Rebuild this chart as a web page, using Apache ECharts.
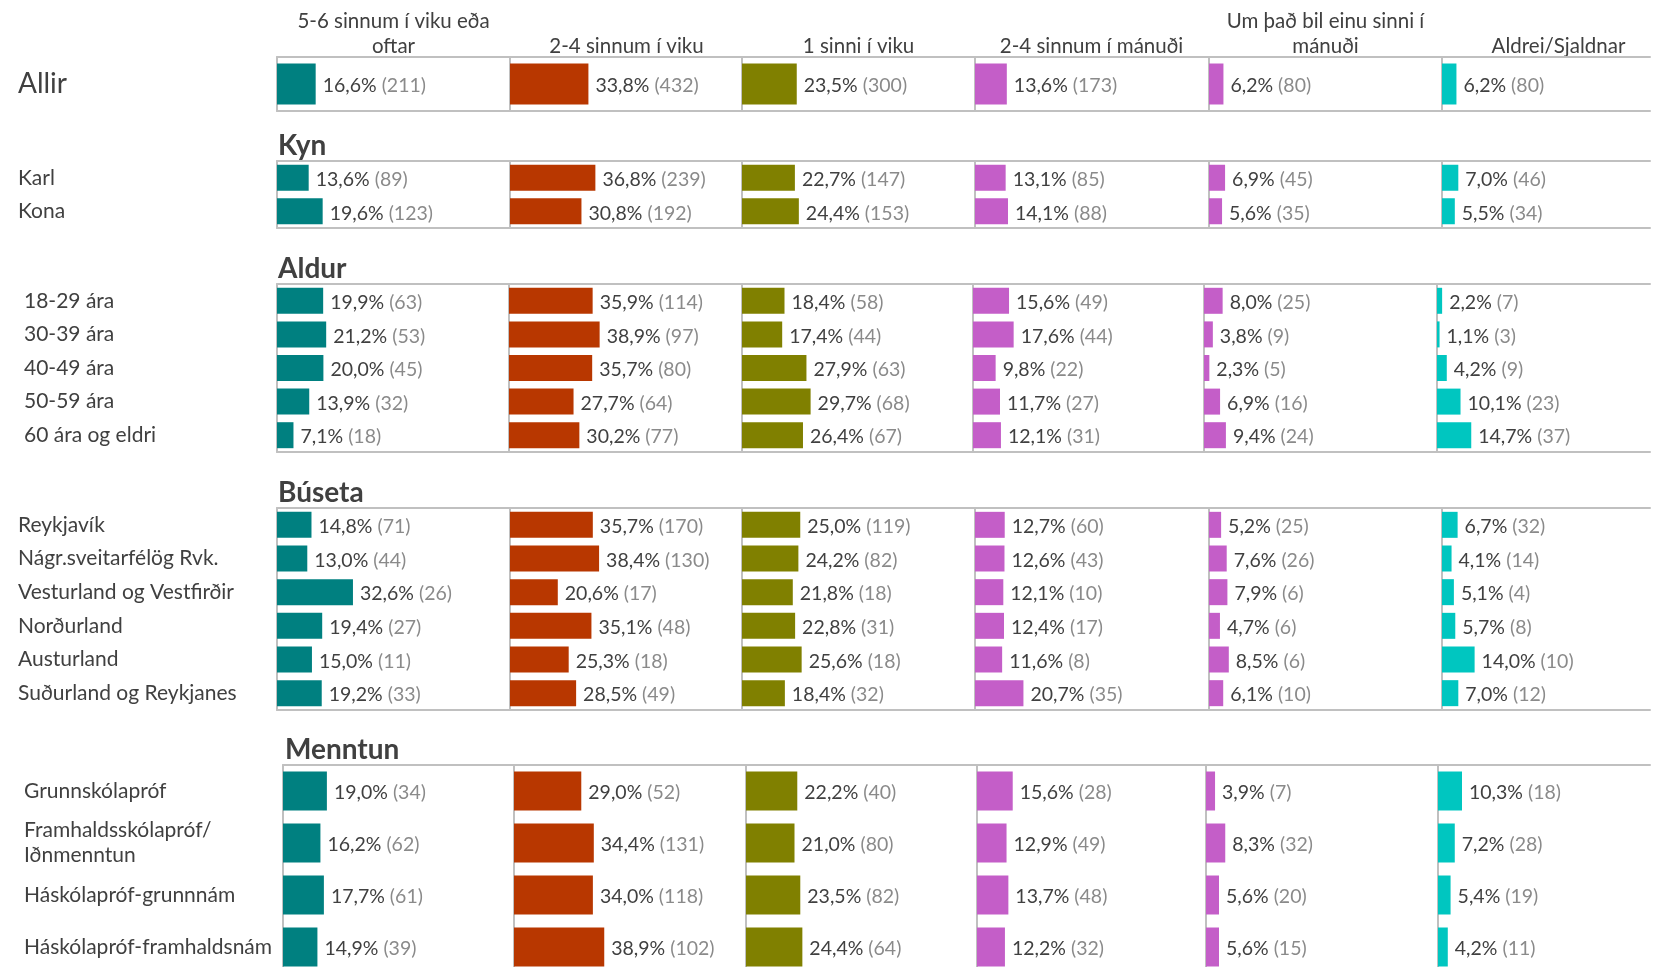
<!DOCTYPE html>
<html>
<head>
<meta charset="utf-8">
<script src="https://cdn.jsdelivr.net/npm/echarts@6/dist/echarts.min.js"></script>
<style>
  html, body { margin: 0; padding: 0; background: #fff; overflow: hidden; }
  #main { width: 1655px; height: 967px; }
</style>
</head>
<body>
<div id="main"></div>
<script>
// dálkar (svarmöguleikar)
var columns = ['5-6 sinnum í viku eða\noftar', '2-4 sinnum í viku', '1 sinni í viku',
               '2-4 sinnum í mánuði', 'Um það bil einu sinni í\nmánuði', 'Aldrei/Sjaldnar'];
var sections = ['', 'Kyn', 'Aldur', 'Búseta', 'Menntun'];

var allirRows = ['Allir'];
var allirPct = [[16.6, 33.8, 23.5, 13.6, 6.2, 6.2]];
var allirN   = [[211, 432, 300, 173, 80, 80]];

var kynRows = ['Karl', 'Kona'];
var kynPct = [[13.6, 36.8, 22.7, 13.1, 6.9, 7.0],
              [19.6, 30.8, 24.4, 14.1, 5.6, 5.5]];
var kynN   = [[89, 239, 147, 85, 45, 46],
              [123, 192, 153, 88, 35, 34]];

var aldurRows = ['18-29 ára', '30-39 ára', '40-49 ára', '50-59 ára', '60 ára og eldri'];
var aldurPct = [[19.9, 35.9, 18.4, 15.6, 8.0, 2.2],
                [21.2, 38.9, 17.4, 17.6, 3.8, 1.1],
                [20.0, 35.7, 27.9, 9.8, 2.3, 4.2],
                [13.9, 27.7, 29.7, 11.7, 6.9, 10.1],
                [7.1, 30.2, 26.4, 12.1, 9.4, 14.7]];
var aldurN   = [[63, 114, 58, 49, 25, 7],
                [53, 97, 44, 44, 9, 3],
                [45, 80, 63, 22, 5, 9],
                [32, 64, 68, 27, 16, 23],
                [18, 77, 67, 31, 24, 37]];

var busetaRows = ['Reykjavík', 'Nágr.sveitarfélög Rvk.', 'Vesturland og Vestfirðir',
                  'Norðurland', 'Austurland', 'Suðurland og Reykjanes'];
var busetaPct = [[14.8, 35.7, 25.0, 12.7, 5.2, 6.7],
                 [13.0, 38.4, 24.2, 12.6, 7.6, 4.1],
                 [32.6, 20.6, 21.8, 12.1, 7.9, 5.1],
                 [19.4, 35.1, 22.8, 12.4, 4.7, 5.7],
                 [15.0, 25.3, 25.6, 11.6, 8.5, 14.0],
                 [19.2, 28.5, 18.4, 20.7, 6.1, 7.0]];
var busetaN   = [[71, 170, 119, 60, 25, 32],
                 [44, 130, 82, 43, 26, 14],
                 [26, 17, 18, 10, 6, 4],
                 [27, 48, 31, 17, 6, 8],
                 [11, 18, 18, 8, 6, 10],
                 [33, 49, 32, 35, 10, 12]];

var menntunRows = ['Grunnskólapróf', 'Framhaldsskólapróf/\nIðnmenntun',
                   'Háskólapróf-grunnnám', 'Háskólapróf-framhaldsnám'];
var menntunPct = [[19.0, 29.0, 22.2, 15.6, 3.9, 10.3],
                  [16.2, 34.4, 21.0, 12.9, 8.3, 7.2],
                  [17.7, 34.0, 23.5, 13.7, 5.6, 5.4],
                  [14.9, 38.9, 24.4, 12.2, 5.6, 4.2]];
var menntunN   = [[34, 52, 40, 28, 7, 18],
                  [62, 131, 80, 49, 32, 28],
                  [61, 118, 82, 48, 20, 19],
                  [39, 102, 64, 32, 15, 11]];

var colors = ['#008080', '#b83700', '#808000', '#c45ec8', '#c45ec8', '#00c6c0'];

// útlit hvers hluta
var defLefts = [277, 510, 742, 975, 1209, 1442];
var layout = [
  {rows: allirRows,   pct: allirPct,   n: allirN,   top: 57,  h: 54,  bw: 41, lefts: defLefts, lx: 18, fs: 28, pad: 9},
  {rows: kynRows,     pct: kynPct,     n: kynN,     top: 161, h: 67,  bw: 26, lefts: defLefts, lx: 18, fs: 21, pad: 5, tx: 278},
  {rows: aldurRows,   pct: aldurPct,   n: aldurN,   top: 284, h: 168, bw: 26, lefts: [277, 509, 742, 973, 1204, 1437], lx: 24, fs: 21, pad: 5, tx: 278},
  {rows: busetaRows,  pct: busetaPct,  n: busetaN,  top: 508, h: 202, bw: 26, lefts: defLefts, lx: 18, fs: 21, pad: 4, tx: 278},
  {rows: menntunRows, pct: menntunPct, n: menntunN, top: 765, h: 208, bw: 39, lefts: [283, 514, 746, 977, 1206, 1438], lx: 24, fs: 21, pad: 4, tx: 285}
];

var FONT = 'Lato';
var LINE = {color: '#c0c0c0', width: 2};
var COLW = 233;   // breidd dálks = 100%
var grids = [], xAxes = [], yAxes = [], series = [], graphics = [];

function fmt(v) { return v.toFixed(1).replace('.', ',') + '%'; }

layout.forEach(function (sec, s) {
  sec.lefts.forEach(function (left, c) {
    // síðasti dálkurinn endar rétt við jaðar myndarinnar
    var w = c < 5 ? sec.lefts[c + 1] - left : 1650 - left;
    var xmax = c < 5 ? 100 : 100 * w / COLW;
    var gi = grids.length;
    grids.push({left: left, top: sec.top, width: w, height: sec.h, outerBoundsMode: 'none'});
    // neðri og efri lína rammans
    ['bottom', 'top'].forEach(function (pos) {
      xAxes.push({
        gridIndex: gi, type: 'value', min: 0, max: xmax, position: pos,
        axisLine: {show: true, onZero: false, lineStyle: LINE},
        axisTick: {show: false}, axisLabel: {show: false}, splitLine: {show: false}
      });
    });
    yAxes.push({
      gridIndex: gi, type: 'category', inverse: true, data: sec.rows,
      axisLine: {show: true, onZero: false, lineStyle: LINE},
      axisTick: {show: false},
      axisLabel: {
        show: c === 0, interval: 0, align: 'left', margin: left - sec.lx,
        color: '#404040', fontFamily: FONT, fontSize: sec.fs, lineHeight: 25,
        padding: [sec.pad, 0, 0, 0]
      }
    });
    series.push({
      type: 'bar', xAxisIndex: gi * 2, yAxisIndex: gi,
      barWidth: sec.bw, itemStyle: {color: colors[c]},
      data: sec.rows.map(function (r, i) { return sec.pct[i][c]; }),
      silent: true,
      label: {
        show: true, position: 'right', distance: 7, offset: [0, 2],
        formatter: function (p) {
          return '{p|' + fmt(p.value) + '}{n|(' + sec.n[p.dataIndex][c] + ')}';
        },
        rich: {
          p: {color: '#404040', fontFamily: FONT, fontSize: 19.5, padding: [0, 5, 0, 0]},
          n: {color: '#8a8a8a', fontFamily: FONT, fontSize: 19.5}
        }
      }
    });
  });
  if (sections[s]) {
    graphics.push({
      type: 'text', left: sec.tx, top: sec.top - 29,
      style: {text: sections[s], fill: '#404040', font: 'bold 28px ' + FONT}
    });
  }
});

// dálkafyrirsagnir
columns.forEach(function (name, c) {
  var cx = defLefts[c] + 116.5;
  var two = name.indexOf('\n') >= 0;
  graphics.push({
    type: 'text', x: cx, y: two ? 33.5 : 46,
    style: {
      text: name, fill: '#404040', font: '20.5px ' + FONT,
      textAlign: 'center', textVerticalAlign: 'middle', lineHeight: 25
    }
  });
});

var dom = document.getElementById('main');
var myChart = echarts.init(dom);
var option = {
  animation: false,
  grid: grids,
  xAxis: xAxes,
  yAxis: yAxes,
  series: series,
  graphic: graphics
};
myChart.setOption(option);
</script>
</body>
</html>
